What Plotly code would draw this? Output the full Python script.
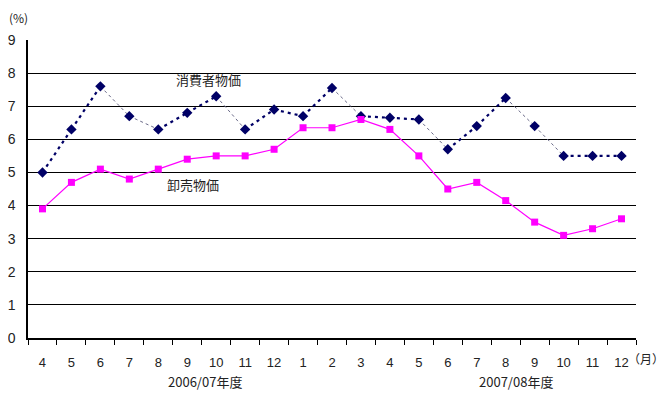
import plotly.graph_objects as go

months = ["4", "5", "6", "7", "8", "9", "10", "11", "12", "1", "2", "3",
          "4", "5", "6", "7", "8", "9", "10", "11", "12"]
cpi = [5.0, 6.3, 7.6, 6.7, 6.3, 6.8, 7.3, 6.3, 6.9, 6.7, 7.55, 6.7,
       6.65, 6.6, 5.7, 6.4, 7.25, 6.4, 5.5, 5.5, 5.5]
wpi = [3.9, 4.7, 5.1, 4.8, 5.1, 5.4, 5.5, 5.5, 5.7, 6.35, 6.35, 6.6,
       6.3, 5.5, 4.5, 4.7, 4.15, 3.5, 3.1, 3.3, 3.6]
yticks = list(range(0, 10))
series_names = ["消費者物価", "卸売物価"]
year_labels = ["2006/07年度", "2007/08年度"]

x = list(range(len(months)))
n = len(months)
jp = "Noto Sans CJK JP"
num = "Liberation Sans"
navy = "#000066"

# The dotted CPI line renders faint on steep falling segments in the original;
# split the segments by slope so each group gets its own line style.
bold_x, bold_y, faint_x, faint_y = [], [], [], []
for i in range(n - 1):
    if cpi[i + 1] < cpi[i] - 0.3:
        faint_x += [x[i], x[i + 1], None]
        faint_y += [cpi[i], cpi[i + 1], None]
    else:
        bold_x += [x[i], x[i + 1], None]
        bold_y += [cpi[i], cpi[i + 1], None]

fig = go.Figure()
fig.add_trace(go.Scatter(
    x=faint_x, y=faint_y, mode="lines", hoverinfo="skip",
    line=dict(color="#6a6a88", width=1, dash="3px,3px"),
))
fig.add_trace(go.Scatter(
    x=bold_x, y=bold_y, mode="lines", hoverinfo="skip",
    line=dict(color=navy, width=2.2, dash="3px,4px"),
))
fig.add_trace(go.Scatter(
    x=x, y=cpi, mode="markers", name=series_names[0],
    marker=dict(symbol="diamond", size=8, color=navy),
))
fig.add_trace(go.Scatter(
    x=x, y=wpi, mode="lines+markers", name=series_names[1],
    line=dict(color="#FF00FF", width=1.2),
    marker=dict(symbol="square", size=7, color="#FF00FF"),
))

fig.update_layout(
    width=671, height=393,
    margin=dict(l=20, r=43, t=32, b=63),
    paper_bgcolor="white", plot_bgcolor="white",
    showlegend=False,
    font=dict(family=num, size=13, color="#222"),
)
fig.update_xaxes(
    range=[-0.5, n - 0.5], automargin=False,
    tickmode="array", tickvals=x, ticktext=months,
    ticks="", showgrid=False, zeroline=False,
    showline=True, linecolor="black", linewidth=1.5,
    ticklabelstandoff=12,
    minor=dict(ticks="outside", ticklen=5, tickcolor="black", tickwidth=1.2,
               tick0=-0.5, dtick=1, showgrid=False),
    tickfont=dict(family=num, size=13, color="#222"),
)
fig.update_yaxes(
    range=[0, 9], tickmode="array", tickvals=yticks, automargin=False,
    showgrid=True, gridcolor="black", gridwidth=1.2,
    zeroline=False, showline=True, linecolor="black", linewidth=1.5,
    ticks="", ticklabelstandoff=8,
    tickfont=dict(family=num, size=14, color="#222"),
)

def add_text(text, xv, yv, xref, yref, size=13):
    fig.add_annotation(x=xv, y=yv, xref=xref, yref=yref, text=text,
                       xanchor="center", yanchor="middle",
                       showarrow=False, font=dict(family=jp, size=size, color="#222"))

add_text(series_names[0], 5.75, 7.8, "x", "y")
add_text(series_names[1], 5.2, 4.63, "x", "y")
add_text(year_labels[0], 5.6, -0.147, "x", "y domain")
add_text(year_labels[1], 16.35, -0.147, "x", "y domain")
add_text("（月）", 1.017, -0.069, "x domain", "y domain", size=12)
add_text("(%)", -0.015, 1.076, "x domain", "y domain", size=12)

fig.write_html("out.html")
